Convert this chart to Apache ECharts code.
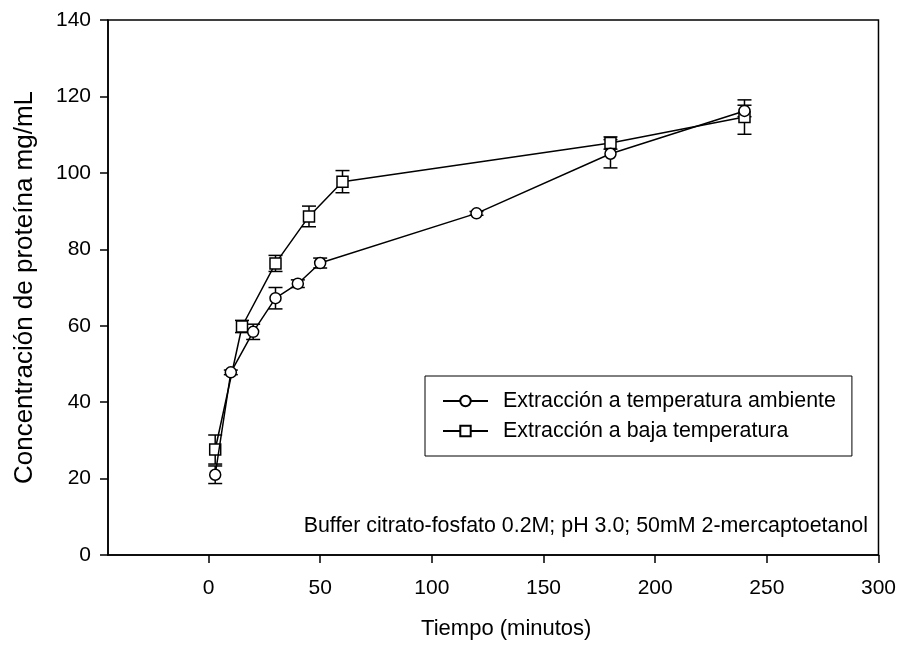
<!DOCTYPE html>
<html><head><meta charset="utf-8">
<script src="https://cdn.jsdelivr.net/npm/echarts@6/dist/echarts.min.js"></script>
<style>html,body{margin:0;padding:0;background:#fff}#c{width:899px;height:645px}</style>
</head><body><div id="c"></div>
<script>
// ---- data ----
const seriesNames = ['Extracción a temperatura ambiente', 'Extracción a baja temperatura'];
const timeAmbiente = [3, 10, 20, 30, 40, 50, 120, 180, 240];
const protAmbiente = [21.0, 47.8, 58.4, 67.2, 71.0, 76.4, 89.4, 105.0, 116.2];
const errAmbiente  = [2.3, 0.6, 2.0, 2.8, 1.0, 1.3, 0.5, 3.7, 1.5];
const timeBaja = [3, 15, 30, 45, 60, 180, 240];
const protBaja = [27.6, 59.8, 76.3, 88.6, 97.7, 107.8, 114.6];
const errBaja  = [3.8, 1.6, 2.1, 2.7, 2.9, 1.6, 4.5];
const xTicks = [0, 50, 100, 150, 200, 250, 300];
const yTicks = [0, 20, 40, 60, 80, 100, 120, 140];
const xTitle = 'Tiempo (minutos)';
const yTitle = 'Concentración de proteína mg/mL';
const note = 'Buffer citrato-fosfato 0.2M; pH 3.0; 50mM 2-mercaptoetanol';

const FONT = "'Liberation Sans', Arial, sans-serif";
const pts = (xs, ys) => xs.map((x, i) => [x, ys[i]]);
const errs = (xs, ys, es) => xs.map((x, i) => [x, ys[i] - es[i], ys[i] + es[i]]);

function errRender(params, api) {
  const x = api.value(0), lo = api.value(1), hi = api.value(2);
  const a = api.coord([x, hi]), b = api.coord([x, lo]);
  const w = 7, st = { stroke: '#000', lineWidth: 1.5 };
  return { type: 'group', children: [
    { type: 'line', shape: { x1: a[0], y1: a[1], x2: b[0], y2: b[1] }, style: st },
    { type: 'line', shape: { x1: a[0] - w, y1: a[1], x2: a[0] + w, y2: a[1] }, style: st },
    { type: 'line', shape: { x1: b[0] - w, y1: b[1], x2: b[0] + w, y2: b[1] }, style: st }
  ]};
}

const chart = echarts.init(document.getElementById('c'), null, { renderer: 'canvas' });
const axisCommon = {
  axisLine: { show: true, onZero: false, lineStyle: { color: '#000', width: 1.5 } },
  axisTick: { show: true, inside: false, length: 8, lineStyle: { color: '#000', width: 1.5 } },
  splitLine: { show: false },
  nameLocation: 'middle'
};
chart.setOption({
  animation: false,
  backgroundColor: '#fff',
  textStyle: { fontFamily: FONT },
  grid: { left: 108, right: 16, top: 20, bottom: 90, show: true, borderColor: '#000', borderWidth: 1.5, backgroundColor: 'transparent' },
  xAxis: Object.assign({}, axisCommon, {
    type: 'value', min: -45, max: 300,
    axisTick: Object.assign({}, axisCommon.axisTick, { customValues: xTicks }),
    axisLabel: { customValues: xTicks, color: '#000', fontSize: 21, fontFamily: FONT, margin: 23 },
    name: xTitle, nameGap: 63, nameMoveOverlap: false,
    nameTextStyle: { color: '#000', fontSize: 22, fontFamily: FONT, padding: [0, 0, 0, 26] }
  }),
  yAxis: Object.assign({}, axisCommon, {
    type: 'value', min: 0, max: 140, interval: 20,
    axisLabel: { color: '#000', fontSize: 21, fontFamily: FONT, margin: 17 },
    name: yTitle, nameGap: 70,
    nameTextStyle: { color: '#000', fontSize: 26, fontFamily: FONT }
  }),
  legend: {
    orient: 'vertical', left: 425, top: 376,
    data: seriesNames,
    borderColor: '#000', borderWidth: 1, padding: [14, 16, 14, 17],
    itemWidth: 45, itemHeight: 13, itemGap: 8,
    textStyle: { color: '#000', fontSize: 21.4, fontFamily: FONT, lineHeight: 22, padding: [0, 0, 0, 10] }
  },
  graphic: [{
    type: 'text', right: 31, top: 516,
    style: { text: note, fill: '#000', font: '21.4px ' + FONT }
  }],
  series: [
    { type: 'custom', name: 'errA', renderItem: errRender, data: errs(timeAmbiente, protAmbiente, errAmbiente), encode: { x: 0, y: [1, 2] }, z: 1, silent: true },
    { type: 'custom', name: 'errB', renderItem: errRender, data: errs(timeBaja, protBaja, errBaja), encode: { x: 0, y: [1, 2] }, z: 1, silent: true },
    { type: 'line', name: seriesNames[0], data: pts(timeAmbiente, protAmbiente), z: 3,
      symbol: 'circle', symbolSize: 11, showAllSymbol: true,
      lineStyle: { color: '#000', width: 1.5 }, itemStyle: { color: '#fff', borderColor: '#000', borderWidth: 1.5 } },
    { type: 'line', name: seriesNames[1], data: pts(timeBaja, protBaja), z: 2,
      symbol: 'rect', symbolSize: 11, showAllSymbol: true,
      lineStyle: { color: '#000', width: 1.5 }, itemStyle: { color: '#fff', borderColor: '#000', borderWidth: 1.5 } }
  ]
});
</script></body></html>
